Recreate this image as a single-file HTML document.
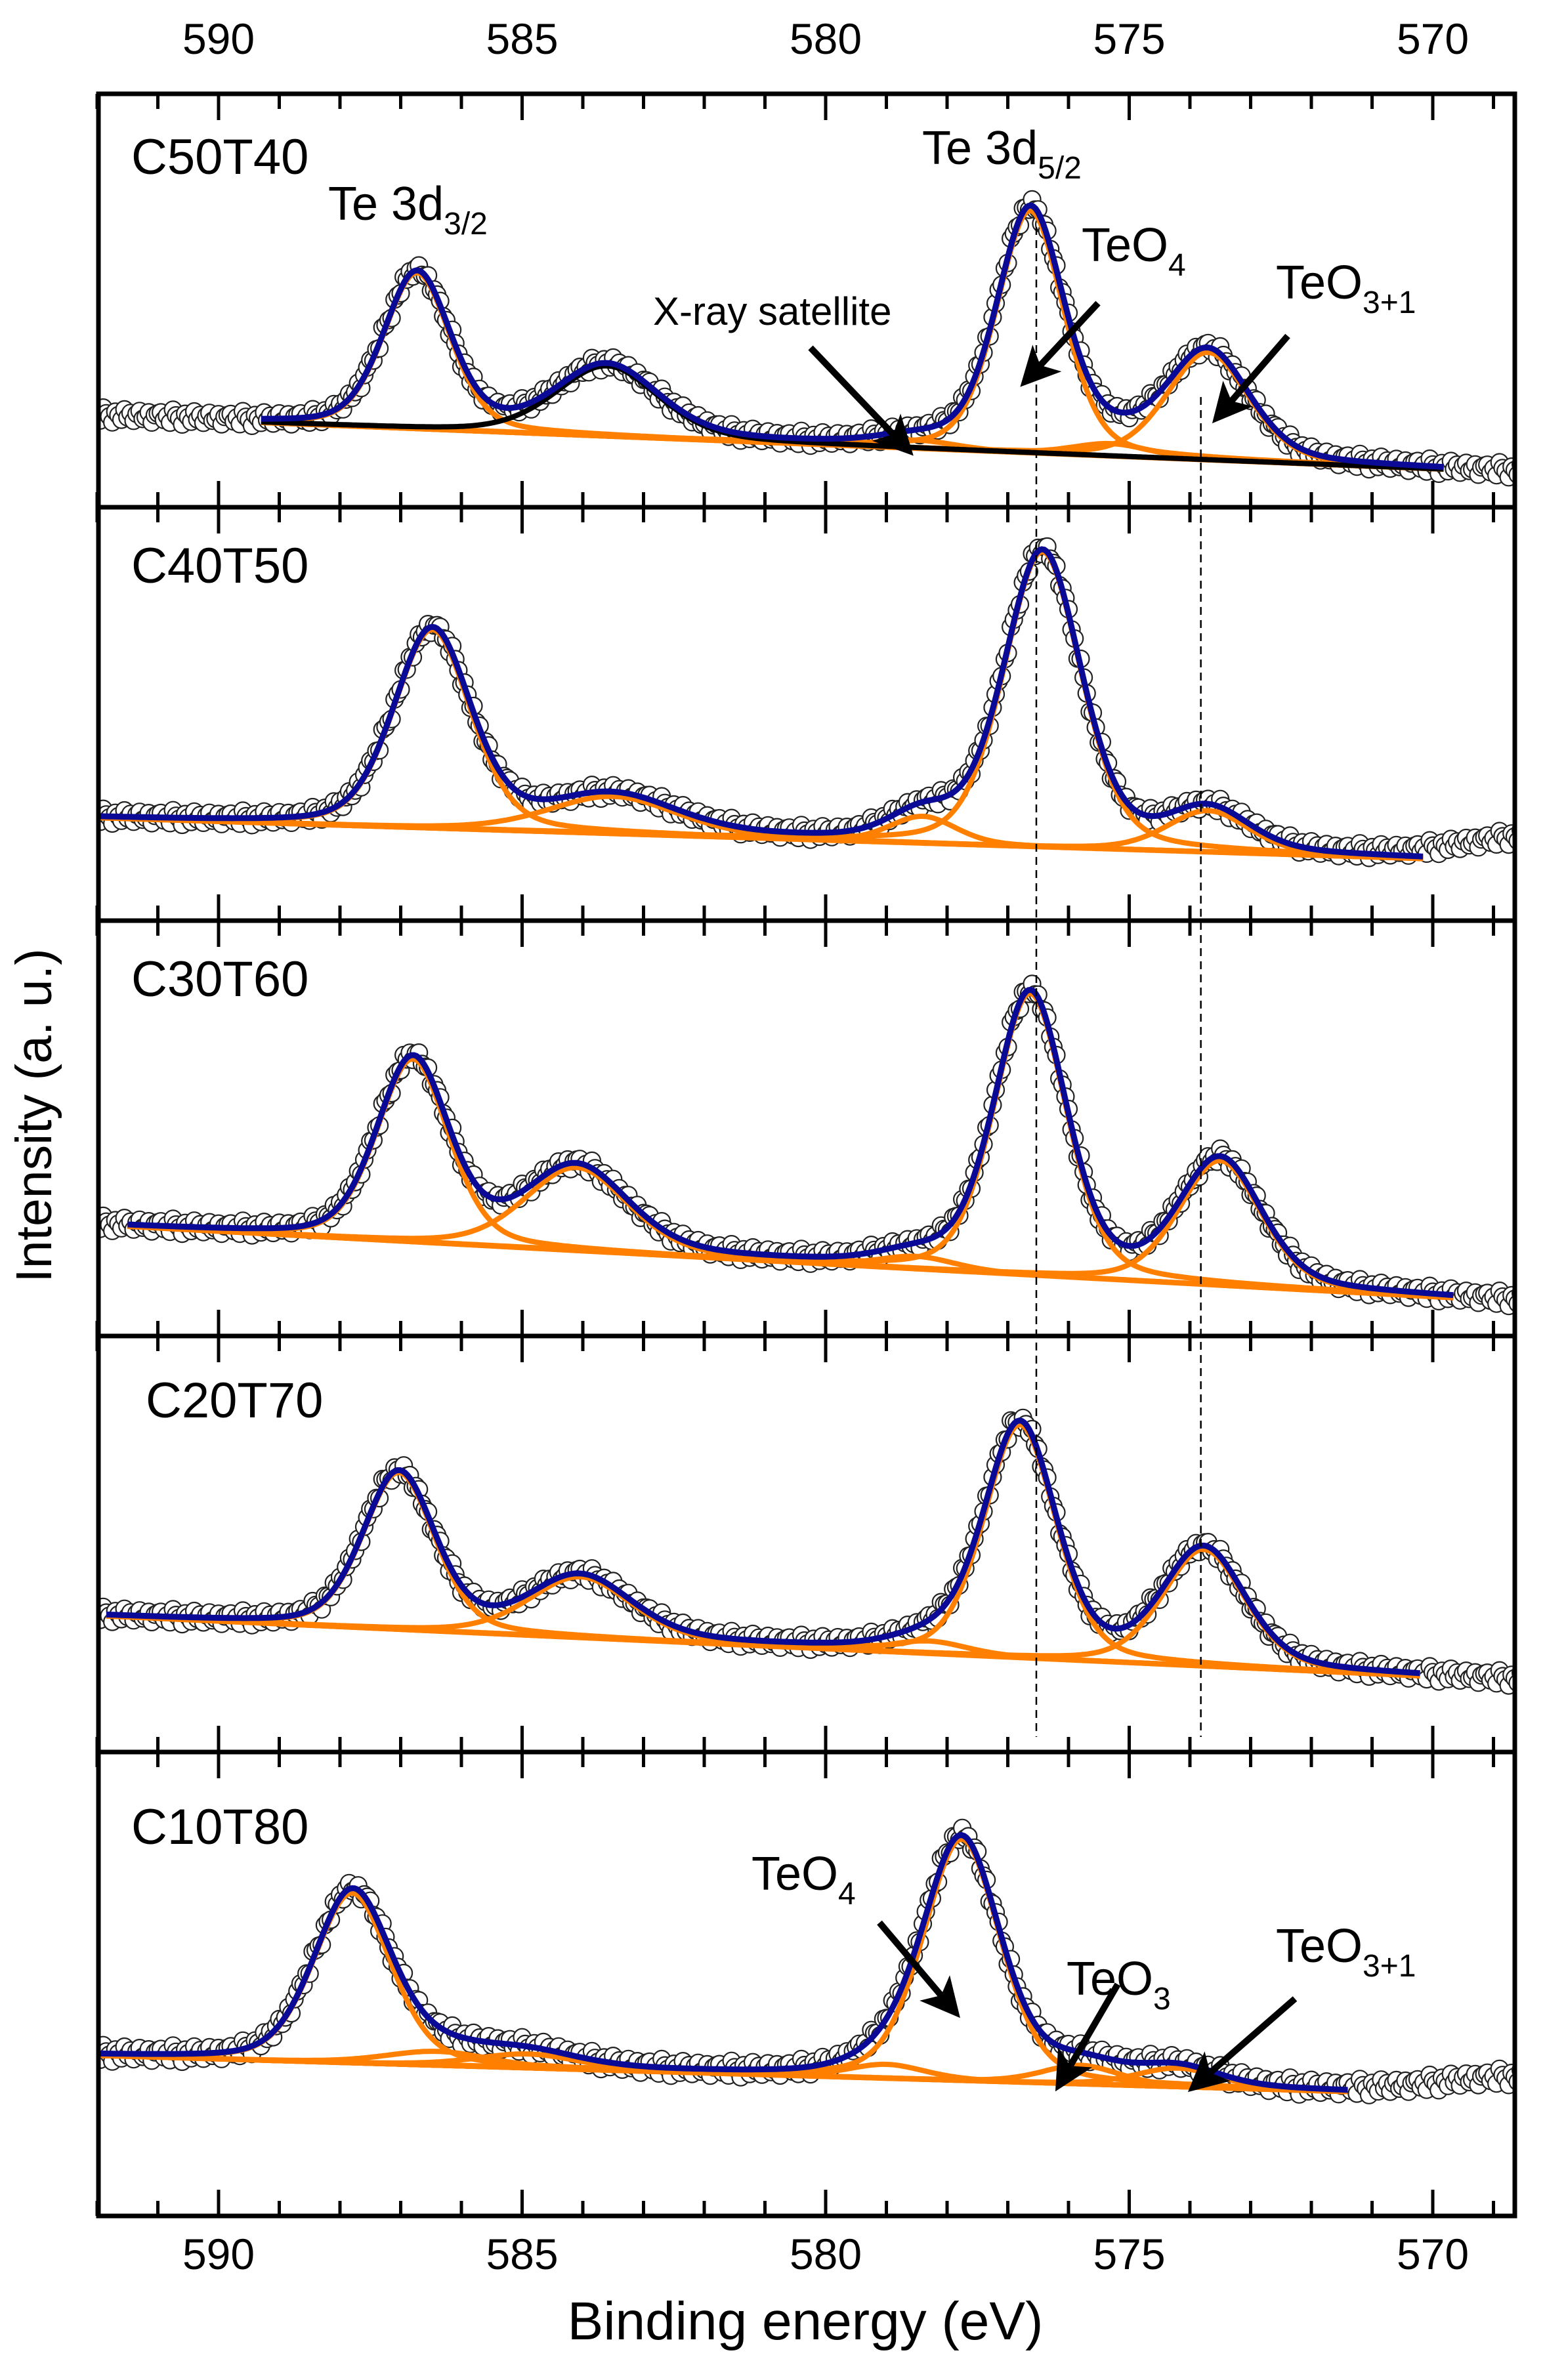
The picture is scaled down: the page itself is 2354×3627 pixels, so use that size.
<!DOCTYPE html>
<html><head><meta charset="utf-8">
<style>
html,body{margin:0;padding:0;background:#fff;}
svg{display:block;}
text{font-family:"Liberation Sans",Arial,sans-serif;fill:#000;}
</style></head>
<body>
<svg id="chart" width="2354" height="3627" viewBox="0 0 2354 3627" xmlns="http://www.w3.org/2000/svg">
<defs>
<marker id="ah" markerWidth="6" markerHeight="6" refX="4" refY="3" orient="auto" markerUnits="strokeWidth">
<path d="M0,0 L6,3 L0,6 L1.5,3 z" fill="#000"/></marker>
</defs>
<g id="plot"></g>
<g id="annot"></g>
</svg>
<script>
// ---- data (binding energy in eV, intensity in panel units 0..100) ----
const xTicks = [590, 585, 580, 575, 570];
const panelNames = ["C50T40", "C40T50", "C30T60", "C20T70", "C10T80"];
// background: [eV left, value left, eV right, value right]
const bg1 = [589.3, 20.5, 569.8, 9.2];
const bg2 = [592.0, 24.9, 570.15, 15.0];
const bg3 = [591.5, 26.4, 569.65, 9.2];
const bg4 = [591.85, 32.7, 570.2, 18.3];
const bg5 = [592.0, 34.6, 571.4, 26.8];
// fitted components
const p1Center = [586.73, 576.63, 575.3, 573.7, 578.5];
const p1Height = [37.7, 58.6, 3, 26, 2];
const p1Fwhm = [1.3, 1.3, 1.5, 1.6, 1.5];
const p1SatCenter = [583.6];
const p1SatHeight = [17];
const p1SatFwhm = [2.0];
const p2Center = [586.48, 583.5, 576.43, 578.4, 573.7];
const p2Height = [48, 9, 71.4, 6.5, 10];
const p2Fwhm = [1.5, 2.5, 1.5, 1.3, 1.6];
const p3Center = [586.8, 584.1, 576.63, 578.5, 573.5];
const p3Height = [44, 20, 67.8, 3, 30];
const p3Fwhm = [1.4, 2.0, 1.4, 1.5, 1.6];
const p4Center = [587.03, 584.04, 576.8, 578.3, 573.77];
const p4Height = [37.7, 14.6, 56, 3, 28];
const p4Fwhm = [1.4, 2.0, 1.4, 1.5, 1.6];
const p5Center = [587.8, 586.4, 584.9, 577.76, 579.0, 575.8, 574.2];
const p5Height = [36.6, 3, 3, 52, 3, 4, 4];
const p5Fwhm = [1.5, 2.0, 2.0, 1.5, 1.5, 1.5, 1.6];
// data-only features outside fit range
const extra2Center = [568.2]; const extra2Height = [6];
const extra5Center = [568.6]; const extra5Height = [4];
const residuals = [1.2,-0.8,0.3,-1.5,2.0,0.5,-0.3,-1.9,1.0,0.1,-1.1,1.7,-0.4,0.8,-1.3,0.6,1.4,-0.7,-0.2,1.1,-1.6,0.4,0.9];
const dashedLines = [576.53, 573.82];

// ---- layout ----
const L = 150, R = 2308;
const panelTop = [143, 773, 1403, 2036, 2670];
const panelBot = [773, 1403, 2036, 2670, 3377];
const X = e => 333 + (590 - e) * 92.5;
const NS = "http://www.w3.org/2000/svg";
const plot = document.getElementById('plot');
const annot = document.getElementById('annot');
function mk(tag, attrs, parent) {
  const el = document.createElementNS(NS, tag);
  for (const k in attrs) el.setAttribute(k, attrs[k]);
  (parent || plot).appendChild(el);
  return el;
}
function pv(e, c, h, w) {
  const t = (e - c) / w;
  return h * (0.7 * Math.exp(-4 * Math.LN2 * t * t) + 0.3 / (1 + 4 * t * t));
}
function bgv(bg, e) { return bg[1] + (bg[3] - bg[1]) * (bg[0] - e) / (bg[0] - bg[2]); }

const panels = [
  {bg: bg1, c: p1Center, h: p1Height, w: p1Fwhm, sc: p1SatCenter, sh: p1SatHeight, sw: p1SatFwhm, ec: [], eh: []},
  {bg: bg2, c: p2Center, h: p2Height, w: p2Fwhm, sc: [], sh: [], sw: [], ec: extra2Center, eh: extra2Height},
  {bg: bg3, c: p3Center, h: p3Height, w: p3Fwhm, sc: [], sh: [], sw: [], ec: [], eh: []},
  {bg: bg4, c: p4Center, h: p4Height, w: p4Fwhm, sc: [], sh: [], sw: [], ec: [], eh: []},
  {bg: bg5, c: p5Center, h: p5Height, w: p5Fwhm, sc: [], sh: [], sw: [], ec: extra5Center, eh: extra5Height},
];

panels.forEach((p, i) => {
  const top = panelTop[i], bot = panelBot[i], H = bot - top;
  const Y = v => bot - v / 100 * H;
  const env = e => {
    let s = bgv(p.bg, e);
    p.c.forEach((c, k) => s += pv(e, c, p.h[k], p.w[k]));
    p.sc.forEach((c, k) => s += pv(e, c, p.sh[k], p.sw[k]));
    return s;
  };
  const g = mk('g', {});
  
  
  const clip = mk('clipPath', {id: 'clip' + i}, g);
  mk('rect', {x: L, y: top, width: R - L, height: H}, clip);
  const inner = mk('g', {'clip-path': 'url(#clip' + i + ')'}, g);
  // data circles
  const dg = mk('g', {fill: '#fff', stroke: '#222', 'stroke-width': 2.2}, inner);
  
  
  let n = 0;
  for (let e = 592.1; e >= 568.4; e -= 0.05) {
    let v = env(e);
    p.ec.forEach((c, k) => v += pv(e, c, p.eh[k], 3.0));
    v += residuals[n % residuals.length] * 0.9;
    mk('circle', {cx: X(e).toFixed(1), cy: Y(v).toFixed(1), r: 13}, dg);
    n++;
  }
  const e0 = p.bg[0], e1 = p.bg[2];
  const path = f => {
    let d = '';
    for (let e = e0; e >= e1 - 1e-9; e -= 0.04) d += (d ? 'L' : 'M') + X(e).toFixed(1) + ',' + Y(f(e)).toFixed(1);
    return d;
  };
  const bgl = mk('path', {d: path(e => bgv(p.bg, e)), fill: 'none', stroke: '#ff8000', 'stroke-width': 8}, inner);
  
  
  p.c.forEach((c, k) => {
    const pl = mk('path', {d: path(e => bgv(p.bg, e) + pv(e, c, p.h[k], p.w[k])), fill: 'none', stroke: '#ff8000', 'stroke-width': 8}, inner);
    
    
  });
  p.sc.forEach((c, k) => {
    const pl = mk('path', {d: path(e => bgv(p.bg, e) + pv(e, c, p.sh[k], p.sw[k])), fill: 'none', stroke: '#000', 'stroke-width': 8}, inner);
    
    
  });
  const envl = mk('path', {d: path(env), fill: 'none', stroke: '#0a0a96', 'stroke-width': 9}, inner);
  
  
  for (let t = 592; t >= 568; t--) {
    const len = (t % 5 === 0) ? 40 : 23;
    mk('line', {x1: X(t), x2: X(t), y1: top, y2: top + len, stroke: '#000', 'stroke-width': 5}, g);
    mk('line', {x1: X(t), x2: X(t), y1: bot, y2: bot - len, stroke: '#000', 'stroke-width': 5}, g);
  }
  const fr = mk('rect', {x: L, y: top, width: R - L, height: H, fill: 'none', stroke: '#000', 'stroke-width': 7}, g);
  
  
});

const dashTop = [346, 605];
dashedLines.forEach((e, k) => {
  const l = mk('line', {x1: X(e), x2: X(e), y1: dashTop[k], y2: 2647, stroke: '#000', 'stroke-width': 2.5, 'stroke-dasharray': '12,8'});
  
  
});

xTicks.forEach(t => {
  const a = mk('text', {x: X(t), y: 82, 'font-size': 66, 'text-anchor': 'middle'});
  a.textContent = t;
  
  
  const b = mk('text', {x: X(t), y: 3458, 'font-size': 66, 'text-anchor': 'middle'});
  b.textContent = t;
  
  
});
</script>
<script>
(function(){
const NS = "http://www.w3.org/2000/svg";
const annot = document.getElementById('annot');
function t(x, y, size, html, name) {
  const el = document.createElementNS(NS, 'text');
  el.setAttribute('x', x); el.setAttribute('y', y); el.setAttribute('font-size', size);
  el.innerHTML = html;
  
  
  annot.appendChild(el);
}
function arrow(x1, y1, x2, y2, name) {
  const el = document.createElementNS(NS, 'line');
  el.setAttribute('x1', x1); el.setAttribute('y1', y1); el.setAttribute('x2', x2); el.setAttribute('y2', y2);
  el.setAttribute('stroke', '#000'); el.setAttribute('stroke-width', 10); el.setAttribute('marker-end', 'url(#ah)');
  
  
  annot.appendChild(el);
}
const sub = s => '<tspan dy="22" font-size="48">' + s + '</tspan>';
t(200, 265, 76, 'C50T40', 'panel-label-c50t40');
t(200, 888, 76, 'C40T50', 'panel-label-c40t50');
t(200, 1518, 76, 'C30T60', 'panel-label-c30t60');
t(222, 2160, 76, 'C20T70', 'panel-label-c20t70');
t(200, 2810, 76, 'C10T80', 'panel-label-c10t80');
t(500, 335, 72, 'Te 3d' + sub('3/2'), 'label-te-3d32');
t(1405, 250, 72, 'Te 3d' + sub('5/2'), 'label-te-3d52');
t(1648, 398, 72, 'TeO' + sub('4'), 'label-teo4');
t(1944, 455, 72, 'TeO' + sub('3+1'), 'label-teo31');
t(995, 495, 60, 'X-ray satellite', 'label-xray-satellite');
arrow(1235, 530, 1378, 680, 'arrow-xray-satellite');
arrow(1673, 462, 1568, 575, 'arrow-teo4');
arrow(1962, 512, 1860, 630, 'arrow-teo31');
t(1145, 2880, 72, 'TeO' + sub('4'), 'label-teo4-c10t80');
t(1625, 3040, 72, 'TeO' + sub('3'), 'label-teo3-c10t80');
t(1944, 2990, 72, 'TeO' + sub('3+1'), 'label-teo31-c10t80');
arrow(1340, 2930, 1450, 3060, 'arrow-teo4-c10t80');
arrow(1703, 3024, 1618, 3170, 'arrow-teo3-c10t80');
arrow(1973, 3046, 1825, 3175, 'arrow-teo31-c10t80');
t(1227, 3565, 82, '', 'x-axis-title');
annot.lastChild.setAttribute('text-anchor', 'middle');
annot.lastChild.textContent = 'Binding energy (eV)';
const yt = document.createElementNS(NS, 'text');
yt.setAttribute('x', 0); yt.setAttribute('y', 0); yt.setAttribute('font-size', 77);
yt.setAttribute('text-anchor', 'middle');
yt.setAttribute('transform', 'translate(78,1700) rotate(-90)');
yt.textContent = 'Intensity (a. u.)';


annot.appendChild(yt);
})();
</script>
</body></html>
